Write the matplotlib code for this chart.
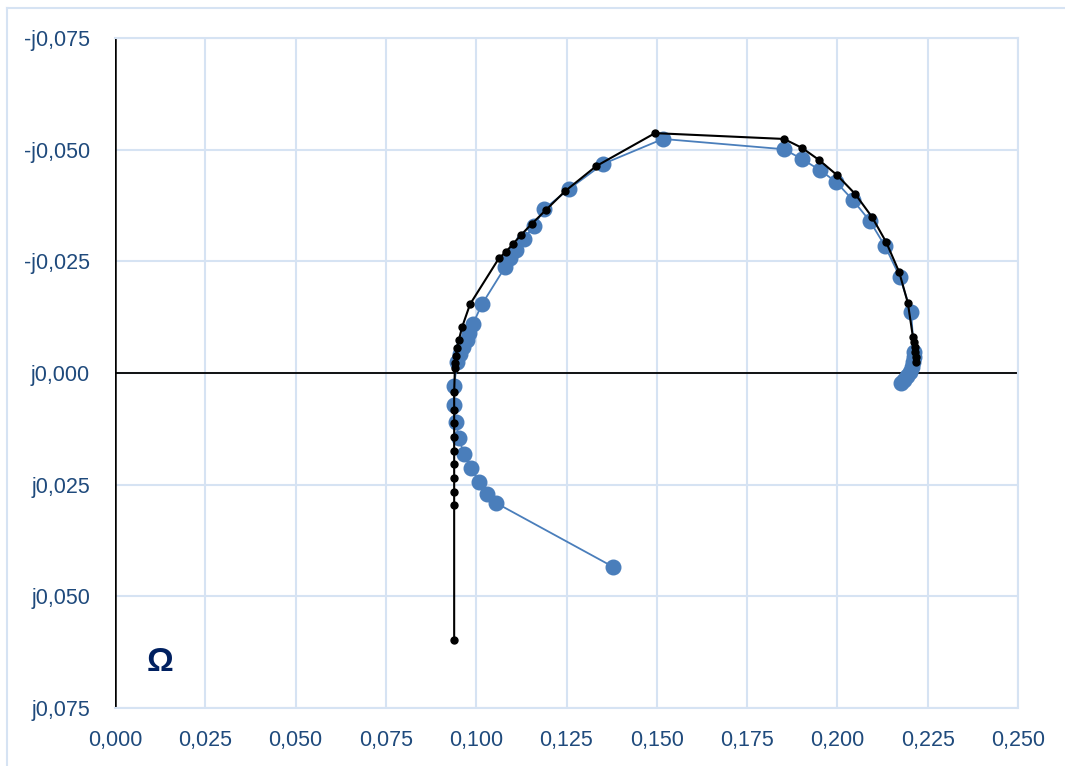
import matplotlib.pyplot as plt
from matplotlib.lines import Line2D
from matplotlib.ticker import FuncFormatter

# measured series (R, -X), blue big markers
meas_r = [0.1379, 0.1055, 0.1030, 0.1008, 0.0986, 0.0966, 0.0952, 0.0944, 0.0939, 0.0939,
          0.0947, 0.0955, 0.0963, 0.0975, 0.0980, 0.0991, 0.1016, 0.1080, 0.1094, 0.1110,
          0.1132, 0.1160, 0.1188, 0.1257, 0.1351, 0.1517, 0.1852, 0.1902, 0.1952, 0.1996,
          0.2043, 0.2090, 0.2132, 0.2173, 0.2204, 0.2212, 0.2212, 0.2209, 0.2207, 0.2201,
          0.2193, 0.2184, 0.2176]
meas_x = [-0.0434, -0.0291, -0.0271, -0.0244, -0.0213, -0.0181, -0.0146, -0.0110, -0.0072, -0.0029,
          0.0025, 0.0043, 0.0058, 0.0074, 0.0090, 0.0110, 0.0154, 0.0237, 0.0257, 0.0275,
          0.0300, 0.0329, 0.0367, 0.0412, 0.0468, 0.0524, 0.0501, 0.0479, 0.0454, 0.0428,
          0.0387, 0.0340, 0.0284, 0.0215, 0.0137, 0.0047, 0.0036, 0.0025, 0.0013, 0.0002,
          -0.0007, -0.0016, -0.0022]

# model series, small black dots
model_r = [0.0939, 0.0939, 0.0939, 0.0939, 0.0939, 0.0939, 0.0939, 0.0939, 0.0939, 0.0939,
           0.0941, 0.0941, 0.0944, 0.0947, 0.0952, 0.0961, 0.0983, 0.1063, 0.1082, 0.1102,
           0.1124, 0.1154, 0.1193, 0.1246, 0.1332, 0.1495, 0.1852, 0.1902, 0.1949, 0.1999,
           0.2049, 0.2096, 0.2135, 0.2171, 0.2195, 0.2209, 0.2212, 0.2215, 0.2215, 0.2218,
           0.2218]
model_x = [-0.0598, -0.0296, -0.0266, -0.0235, -0.0204, -0.0175, -0.0143, -0.0112, -0.0083, -0.0043,
           0.0011, 0.0022, 0.0038, 0.0056, 0.0074, 0.0103, 0.0154, 0.0257, 0.0271, 0.0289,
           0.0309, 0.0334, 0.0365, 0.0407, 0.0463, 0.0537, 0.0524, 0.0504, 0.0477, 0.0443,
           0.0401, 0.0349, 0.0293, 0.0226, 0.0157, 0.0081, 0.0069, 0.0058, 0.0047, 0.0036,
           0.0025]

plt.rcParams["font.family"] = ["Liberation Sans", "DejaVu Sans"]
grid_c = "#d6e3f3"
label_c = "#1f4a7c"

fig = plt.figure(figsize=(10.65, 7.66), dpi=100)
ax = fig.add_axes([115 / 1065, 1 - 708 / 766, 903 / 1065, 670 / 766])

ax.plot(meas_r, meas_x, color="#4a7ebb", lw=1.3, marker="o", markersize=10.5, zorder=3)
ax.plot(model_r, model_x, color="black", lw=1.5, marker="o", markersize=5, zorder=4)

ax.set_xlim(0, 0.25)
ax.set_ylim(-0.075, 0.075)
ax.set_xticks([i * 0.025 for i in range(11)])
ax.set_yticks([-0.075 + i * 0.025 for i in range(7)])


def xfmt(v, pos):
    return f"{v:.3f}".replace(".", ",")


def yfmt(v, pos):
    s = f"{abs(v):.3f}".replace(".", ",")
    return ("-j" if v > 1e-9 else "j") + s


ax.xaxis.set_major_formatter(FuncFormatter(xfmt))
ax.yaxis.set_major_formatter(FuncFormatter(yfmt))
ax.tick_params(length=0, labelsize=15.5, labelcolor=label_c)
ax.tick_params(axis="x", pad=16)
ax.tick_params(axis="y", pad=18)
ax.grid(True, color=grid_c, lw=1.5)
for sp in ax.spines.values():
    sp.set_color(grid_c)
    sp.set_linewidth(1.5)
ax.spines["left"].set_visible(False)
ax.axhline(0, color="black", lw=1.3, zorder=2)
ax.axvline(0, color="black", lw=1.8, zorder=2)

ax.text(0.0125, -0.0648, "Ω", fontsize=24, fontweight="bold", color="#002060",
        ha="center", va="center")

# outer chart border (left and top edges visible)
fig.add_artist(Line2D([7 / 1065, 7 / 1065], [0, 1 - 8 / 766], transform=fig.transFigure,
                      color=grid_c, lw=1.5))
fig.add_artist(Line2D([7 / 1065, 1], [1 - 8 / 766, 1 - 8 / 766], transform=fig.transFigure,
                      color=grid_c, lw=1.5))

fig.savefig("out.png", dpi=100)
